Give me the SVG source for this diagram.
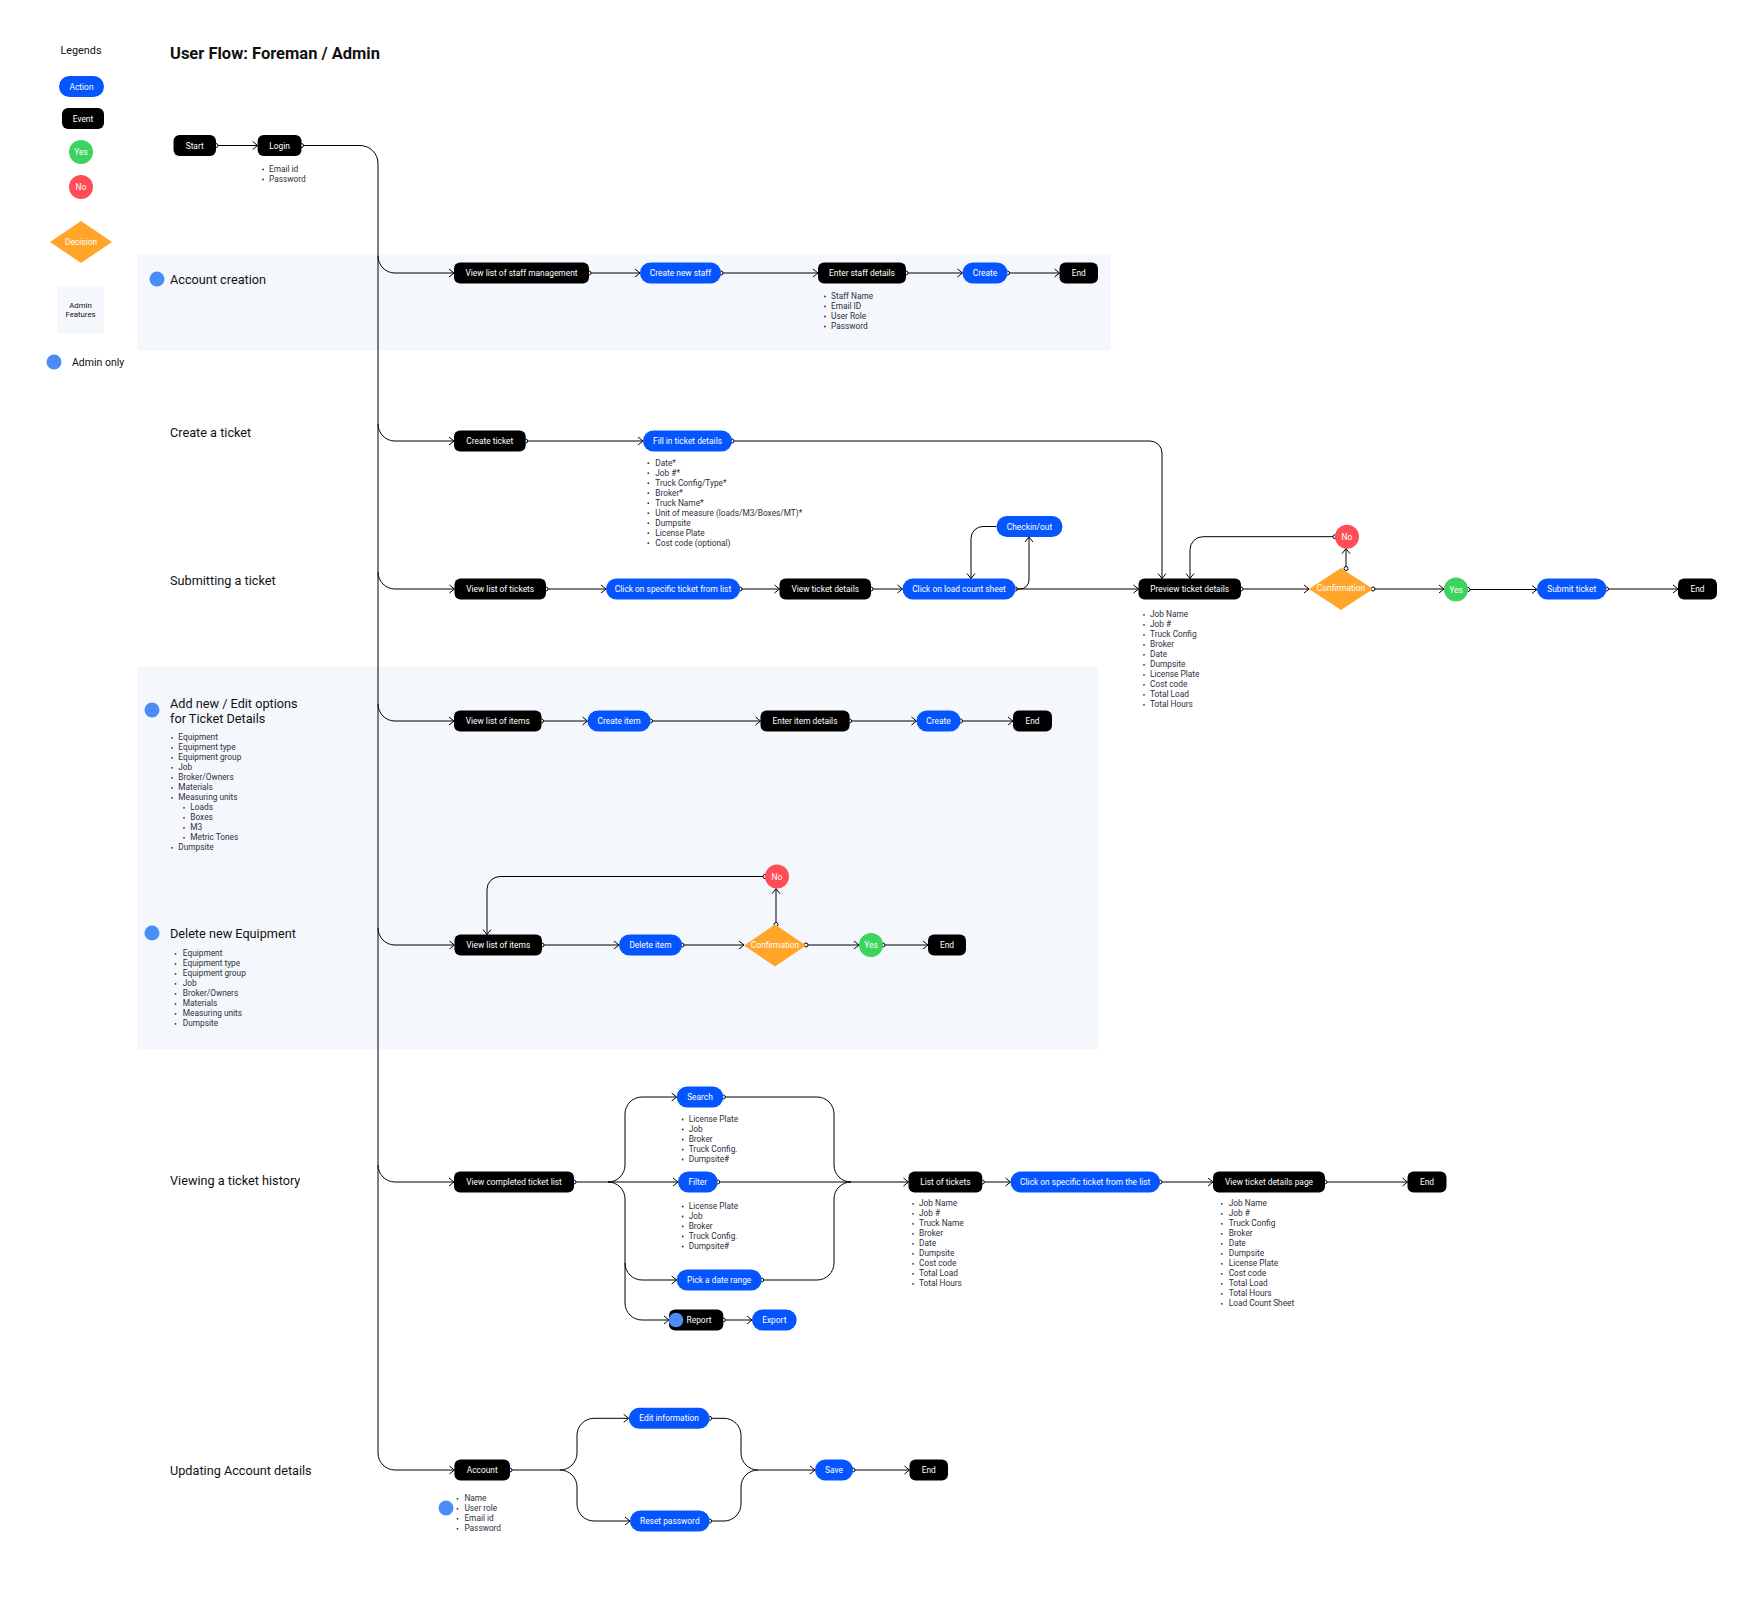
<svg xmlns="http://www.w3.org/2000/svg" width="1756" height="1603" viewBox="0 0 1756 1603">
<defs>
<style>
text{font-family:Roboto,"Liberation Sans",sans-serif}
.e{fill:#000}
.a{fill:#0555ff}
.y{fill:#3dd35f}
.no{fill:#ff4d57}
.d{fill:#ffa62a}
.adm{fill:#4b8df8}
.bg{fill:#f4f8fd}
.t{font-size:8.4px;fill:#fff;text-anchor:middle;dominant-baseline:central}
.b{font-size:8.3px;fill:#2f2f3b}
.dot{fill:#2f2f3b}
.sec{font-size:12.7px;fill:#111;dominant-baseline:central}
.lg{font-size:10.8px;fill:#111;dominant-baseline:central}
.c{fill:none;stroke:#000;stroke-width:1}
</style>
<marker id="ar" viewBox="-6 -5 7 10" refX="0" refY="0" markerWidth="7" markerHeight="10" markerUnits="userSpaceOnUse" orient="auto"><path d="M-5,-4 L0,0 L-5,4" fill="none" stroke="#000" stroke-width="1"/></marker>
<marker id="o" viewBox="-3 -3 6 6" refX="0" refY="0" markerWidth="6" markerHeight="6" markerUnits="userSpaceOnUse"><circle r="2" fill="#fff" stroke="#000" stroke-width="1"/></marker>
</defs>
<rect width="1756" height="1603" fill="#fff"/>

<!-- backgrounds -->
<g id="admin-areas">
<rect class="bg" x="137" y="254" width="974" height="97"/>
<rect class="bg" x="137" y="667" width="961" height="382"/>
</g>

<!-- legend -->
<g id="legend">
<text class="lg" x="81" y="50" text-anchor="middle">Legends</text>
<g id="lg-action"><rect class="a" x="59" y="76" width="45" height="21" rx="10.5"/><text class="t" x="81.5" y="86.5">Action</text></g>
<g id="lg-event"><rect class="e" x="62" y="108" width="42" height="21" rx="6"/><text class="t" x="83" y="118.5">Event</text></g>
<g id="lg-yes"><circle class="y" cx="81" cy="152" r="12"/><text class="t" x="81" y="152">Yes</text></g>
<g id="lg-no"><circle class="no" cx="81" cy="187" r="12"/><text class="t" x="81" y="187">No</text></g>
<g id="lg-decision"><path class="d" d="M81,221 L112,242 L81,263 L50,242 Z"/><text class="t" x="81" y="242">Decision</text></g>
<g id="lg-admin-features"><rect class="bg" x="57" y="286" width="47" height="47"/><text class="t" x="80.5" y="305" style="fill:#111;font-size:7.8px">Admin</text><text class="t" x="80.5" y="314" style="fill:#111;font-size:7.8px">Features</text></g>
<g id="lg-admin-only"><circle class="adm" cx="54" cy="362" r="7.5"/><text class="lg" x="72" y="362" style="font-size:10.5px">Admin only</text></g>
</g>

<text x="170" y="58.5" style="font-size:16.5px;font-weight:700;fill:#111">User Flow: Foreman / Admin</text>

<!-- section labels -->
<g id="sections">
<circle class="adm" cx="157" cy="279" r="7.5"/><text class="sec" x="170" y="279">Account creation</text>
<text class="sec" x="170" y="432">Create a ticket</text>
<text class="sec" x="170" y="580">Submitting a ticket</text>
<circle class="adm" cx="152" cy="710" r="7.5"/><text class="sec" x="170" y="703.5">Add new / Edit options</text><text class="sec" x="170" y="718.5">for Ticket Details</text>
<circle class="adm" cx="152" cy="933" r="7.5"/><text class="sec" x="170" y="933">Delete new Equipment</text>
<text class="sec" x="170" y="1180">Viewing a ticket history</text>
<text class="sec" x="170" y="1470.5">Updating Account details</text>
</g>

<!-- connectors -->
<g id="connectors">
<path class="c" marker-start="url(#o)" marker-end="url(#ar)" d="M216,145.5 H257.6"/>
<path class="c" marker-start="url(#o)" marker-end="url(#ar)" d="M301.5,145.5 H360 A18,18 0 0 1 378,163.5 V1453 A17,17 0 0 0 395,1470 H454.4"/>
<path class="c" marker-end="url(#ar)" d="M378,256 A17,17 0 0 0 395,273 H454"/>
<path class="c" marker-end="url(#ar)" d="M378,424 A17,17 0 0 0 395,441 H454"/>
<path class="c" marker-end="url(#ar)" d="M378,572 A17,17 0 0 0 395,589 H454.5"/>
<path class="c" marker-end="url(#ar)" d="M378,704 A17,17 0 0 0 395,721 H454"/>
<path class="c" marker-end="url(#ar)" d="M378,928 A17,17 0 0 0 395,945 H454.5"/>
<path class="c" marker-end="url(#ar)" d="M378,1165 A17,17 0 0 0 395,1182 H454"/>

<!-- row 1 -->
<path class="c" marker-start="url(#o)" marker-end="url(#ar)" d="M589,273 H640"/>
<path class="c" marker-start="url(#o)" marker-end="url(#ar)" d="M721,273 H818"/>
<path class="c" marker-start="url(#o)" marker-end="url(#ar)" d="M906,273 H962.5"/>
<path class="c" marker-start="url(#o)" marker-end="url(#ar)" d="M1007.5,273 H1059.5"/>

<!-- row 2 -->
<path class="c" marker-start="url(#o)" marker-end="url(#ar)" d="M525.7,441 H643"/>
<path class="c" marker-start="url(#o)" marker-end="url(#ar)" d="M732,441 H1150 A12,12 0 0 1 1162,453 V578.5"/>

<!-- row 3 -->
<path class="c" marker-start="url(#o)" marker-end="url(#ar)" d="M546,589 H606"/>
<path class="c" marker-start="url(#o)" marker-end="url(#ar)" d="M740,589 H779.5"/>
<path class="c" marker-start="url(#o)" marker-end="url(#ar)" d="M871,589 H902.5"/>
<path class="c" marker-start="url(#o)" marker-end="url(#ar)" d="M1015.5,589 H1138.5"/>
<path class="c" marker-end="url(#ar)" d="M1015.5,589 H1020 A9,9 0 0 0 1029,580 V537"/>
<path class="c" marker-end="url(#ar)" d="M996.5,526.5 H983 A12,12 0 0 0 971,538.5 V578.5"/>
<path class="c" marker-start="url(#o)" marker-end="url(#ar)" d="M1241,589 H1309"/>
<path class="c" marker-start="url(#o)" marker-end="url(#ar)" d="M1346,568.5 V548.7"/>
<path class="c" marker-start="url(#o)" marker-end="url(#ar)" d="M1335,536.7 H1203 A13,13 0 0 0 1190,549.7 V578.5"/>
<path class="c" marker-start="url(#o)" marker-end="url(#ar)" d="M1373,589 H1444"/>
<path class="c" marker-start="url(#o)" marker-end="url(#ar)" d="M1468,589.5 H1537"/>
<path class="c" marker-start="url(#o)" marker-end="url(#ar)" d="M1606.5,589 H1678"/>

<!-- row 4 -->
<path class="c" marker-start="url(#o)" marker-end="url(#ar)" d="M541.5,721 H587.5"/>
<path class="c" marker-start="url(#o)" marker-end="url(#ar)" d="M650.5,721 H760.5"/>
<path class="c" marker-start="url(#o)" marker-end="url(#ar)" d="M849.6,721 H916.5"/>
<path class="c" marker-start="url(#o)" marker-end="url(#ar)" d="M960.5,721 H1013"/>

<!-- row 5 -->
<path class="c" marker-start="url(#o)" marker-end="url(#ar)" d="M542,945 H619"/>
<path class="c" marker-start="url(#o)" marker-end="url(#ar)" d="M682,945 H744"/>
<path class="c" marker-start="url(#o)" marker-end="url(#ar)" d="M806,945 H859"/>
<path class="c" marker-start="url(#o)" marker-end="url(#ar)" d="M883,945 H928"/>
<path class="c" marker-start="url(#o)" marker-end="url(#ar)" d="M776,924.5 V888.7"/>
<path class="c" marker-start="url(#o)" marker-end="url(#ar)" d="M765,876.5 H500 A13,13 0 0 0 487,889.5 V934.5"/>

<!-- row 6 -->
<path class="c" marker-start="url(#o)" marker-end="url(#ar)" d="M574,1182 H678"/>
<path class="c" marker-end="url(#ar)" d="M608,1182 A17,17 0 0 0 625,1165 V1114 A17,17 0 0 1 642,1097 H676.7"/>
<path class="c" marker-end="url(#ar)" d="M608,1182 A17,17 0 0 1 625,1199 V1263 A17,17 0 0 0 642,1280 H676.7"/>
<path class="c" marker-end="url(#ar)" d="M625,1263 V1303 A17,17 0 0 0 642,1320 H669"/>
<path class="c" marker-start="url(#o)" marker-end="url(#ar)" d="M723.3,1320 H752"/>
<path class="c" marker-start="url(#o)" marker-end="url(#ar)" d="M723.3,1097 H817 A17,17 0 0 1 834,1114 V1165 A17,17 0 0 0 851,1182 H908.5"/>
<path class="c" marker-start="url(#o)" d="M717.7,1182 H851"/>
<path class="c" marker-start="url(#o)" d="M761.7,1280 H817 A17,17 0 0 0 834,1263 V1199 A17,17 0 0 1 851,1182"/>
<path class="c" marker-start="url(#o)" marker-end="url(#ar)" d="M982.3,1182 H1010.5"/>
<path class="c" marker-start="url(#o)" marker-end="url(#ar)" d="M1160,1182 H1213"/>
<path class="c" marker-start="url(#o)" marker-end="url(#ar)" d="M1325,1182 H1407.5"/>

<!-- row 7 -->
<path class="c" marker-start="url(#o)" marker-end="url(#ar)" d="M510,1470 H560 A17,17 0 0 0 577,1453 V1435.3 A17,17 0 0 1 594,1418.3 H628.7"/>
<path class="c" marker-end="url(#ar)" d="M560,1470 A17,17 0 0 1 577,1487 V1504 A17,17 0 0 0 594,1521 H630"/>
<path class="c" marker-start="url(#o)" marker-end="url(#ar)" d="M709.6,1418.3 H724 A17,17 0 0 1 741,1435.3 V1453 A17,17 0 0 0 758,1470 H815"/>
<path class="c" marker-start="url(#o)" d="M709.6,1521 H724 A17,17 0 0 0 741,1504 V1487 A17,17 0 0 1 758,1470"/>
<path class="c" marker-start="url(#o)" marker-end="url(#ar)" d="M853,1470 H909.5"/>
</g>

<!-- nodes -->
<g id="n-start"><rect class="e" x="173.5" y="135" width="42.5" height="21" rx="6"/><text class="t" x="194.7" y="145.5">Start</text></g>
<g id="n-login"><rect class="e" x="257.6" y="135" width="43.9" height="21" rx="6"/><text class="t" x="279.5" y="145.5">Login</text>
<circle class="dot" cx="263" cy="169.5" r="0.9"/><circle class="dot" cx="263" cy="179.5" r="0.9"/>
<text class="b"><tspan x="269" y="172">Email id</tspan><tspan x="269" y="182">Password</tspan></text></g>

<!-- row 1 -->
<g id="n-staff-list"><rect class="e" x="454" y="262.5" width="135" height="21" rx="6"/><text class="t" x="521.5" y="273">View list of staff management</text></g>
<g id="n-create-staff"><rect class="a" x="640" y="262.5" width="81" height="21" rx="10.5"/><text class="t" x="680.5" y="273">Create new staff</text></g>
<g id="n-enter-staff"><rect class="e" x="818" y="262.5" width="88" height="21" rx="6"/><text class="t" x="862" y="273">Enter staff details</text>
<circle class="dot" cx="825" cy="296.5" r="0.9"/><circle class="dot" cx="825" cy="306.5" r="0.9"/><circle class="dot" cx="825" cy="316.5" r="0.9"/><circle class="dot" cx="825" cy="326.5" r="0.9"/>
<text class="b"><tspan x="831" y="299">Staff Name</tspan><tspan x="831" y="309">Email ID</tspan><tspan x="831" y="319">User Role</tspan><tspan x="831" y="329">Password</tspan></text></g>
<g id="n-create-1"><rect class="a" x="962.5" y="262.5" width="45" height="21" rx="10.5"/><text class="t" x="985" y="273">Create</text></g>
<g id="n-end-1"><rect class="e" x="1059.5" y="262.5" width="38.5" height="21" rx="6"/><text class="t" x="1078.7" y="273">End</text></g>

<!-- row 2 -->
<g id="n-create-ticket"><rect class="e" x="454" y="430.5" width="71.7" height="21" rx="6"/><text class="t" x="489.8" y="441">Create ticket</text></g>
<g id="n-fill-ticket"><rect class="a" x="643" y="430.5" width="89" height="21" rx="10.5"/><text class="t" x="687.5" y="441">Fill in ticket details</text>
<circle class="dot" cx="648.3" cy="463.2" r="0.9"/><circle class="dot" cx="648.3" cy="473.2" r="0.9"/><circle class="dot" cx="648.3" cy="483.2" r="0.9"/><circle class="dot" cx="648.3" cy="493.2" r="0.9"/><circle class="dot" cx="648.3" cy="503.2" r="0.9"/><circle class="dot" cx="648.3" cy="513.2" r="0.9"/><circle class="dot" cx="648.3" cy="523.2" r="0.9"/><circle class="dot" cx="648.3" cy="533.2" r="0.9"/><circle class="dot" cx="648.3" cy="543.2" r="0.9"/>
<text class="b"><tspan x="655.3" y="465.7">Date*</tspan><tspan x="655.3" y="475.7">Job #*</tspan><tspan x="655.3" y="485.7">Truck Config/Type*</tspan><tspan x="655.3" y="495.7">Broker*</tspan><tspan x="655.3" y="505.7">Truck Name*</tspan><tspan x="655.3" y="515.7">Unit of measure (loads/M3/Boxes/MT)*</tspan><tspan x="655.3" y="525.7">Dumpsite</tspan><tspan x="655.3" y="535.7">License Plate</tspan><tspan x="655.3" y="545.7">Cost code (optional)</tspan></text></g>

<!-- row 3 -->
<g id="n-ticket-list"><rect class="e" x="454.5" y="578.5" width="91.5" height="21" rx="6"/><text class="t" x="500.2" y="589">View list of tickets</text></g>
<g id="n-click-ticket"><rect class="a" x="606" y="578.5" width="134" height="21" rx="10.5"/><text class="t" x="673" y="589">Click on specific ticket from list</text></g>
<g id="n-ticket-details"><rect class="e" x="779.5" y="578.5" width="91.5" height="21" rx="6"/><text class="t" x="825.2" y="589">View ticket details</text></g>
<g id="n-load-count"><rect class="a" x="902.5" y="578.5" width="113" height="21" rx="10.5"/><text class="t" x="959" y="589">Click on load count sheet</text></g>
<g id="n-checkin"><rect class="a" x="996.5" y="516" width="66" height="21" rx="10.5"/><text class="t" x="1029.5" y="526.5">Checkin/out</text></g>
<g id="n-preview"><rect class="e" x="1138.5" y="578.5" width="102.5" height="21" rx="6"/><text class="t" x="1189.7" y="589">Preview ticket details</text>
<circle class="dot" cx="1144" cy="614.8" r="0.9"/><circle class="dot" cx="1144" cy="624.8" r="0.9"/><circle class="dot" cx="1144" cy="634.8" r="0.9"/><circle class="dot" cx="1144" cy="644.8" r="0.9"/><circle class="dot" cx="1144" cy="654.8" r="0.9"/><circle class="dot" cx="1144" cy="664.8" r="0.9"/><circle class="dot" cx="1144" cy="674.8" r="0.9"/><circle class="dot" cx="1144" cy="684.8" r="0.9"/><circle class="dot" cx="1144" cy="694.8" r="0.9"/><circle class="dot" cx="1144" cy="704.8" r="0.9"/>
<text class="b"><tspan x="1150" y="617.3">Job Name</tspan><tspan x="1150" y="627.3">Job #</tspan><tspan x="1150" y="637.3">Truck Config</tspan><tspan x="1150" y="647.3">Broker</tspan><tspan x="1150" y="657.3">Date</tspan><tspan x="1150" y="667.3">Dumpsite</tspan><tspan x="1150" y="677.3">License Plate</tspan><tspan x="1150" y="687.3">Cost code</tspan><tspan x="1150" y="697.3">Total Load</tspan><tspan x="1150" y="707.3">Total Hours</tspan></text></g>
<g id="n-confirm-1"><path class="d" d="M1341,568 L1373,589 L1341,610 L1309,589 Z"/><text class="t" x="1341" y="588">Confirmation</text></g>
<g id="n-no-1"><circle class="no" cx="1347" cy="536.7" r="12"/><text class="t" x="1347" y="536.7">No</text></g>
<g id="n-yes-1"><circle class="y" cx="1456" cy="589.5" r="12"/><text class="t" x="1456" y="589.5">Yes</text></g>
<g id="n-submit"><rect class="a" x="1537" y="578.5" width="69.5" height="21" rx="10.5"/><text class="t" x="1571.7" y="589">Submit ticket</text></g>
<g id="n-end-3"><rect class="e" x="1678" y="578.5" width="39" height="21" rx="6"/><text class="t" x="1697.5" y="589">End</text></g>

<!-- row 4 -->
<g id="n-add-edit-note">
<circle class="dot" cx="172" cy="737.8" r="0.9"/><circle class="dot" cx="172" cy="747.8" r="0.9"/><circle class="dot" cx="172" cy="757.8" r="0.9"/><circle class="dot" cx="172" cy="767.8" r="0.9"/><circle class="dot" cx="172" cy="777.8" r="0.9"/><circle class="dot" cx="172" cy="787.8" r="0.9"/><circle class="dot" cx="172" cy="797.8" r="0.9"/><circle class="dot" cx="184" cy="807.8" r="0.9"/><circle class="dot" cx="184" cy="817.8" r="0.9"/><circle class="dot" cx="184" cy="827.8" r="0.9"/><circle class="dot" cx="184" cy="837.8" r="0.9"/><circle class="dot" cx="172" cy="847.8" r="0.9"/>
<text class="b"><tspan x="178.3" y="740.3">Equipment</tspan><tspan x="178.3" y="750.3">Equipment type</tspan><tspan x="178.3" y="760.3">Equipment group</tspan><tspan x="178.3" y="770.3">Job</tspan><tspan x="178.3" y="780.3">Broker/Owners</tspan><tspan x="178.3" y="790.3">Materials</tspan><tspan x="178.3" y="800.3">Measuring units</tspan><tspan x="190.3" y="810.3">Loads</tspan><tspan x="190.3" y="820.3">Boxes</tspan><tspan x="190.3" y="830.3">M3</tspan><tspan x="190.3" y="840.3">Metric Tones</tspan><tspan x="178.3" y="850.3">Dumpsite</tspan></text></g>
<g id="n-items-list-1"><rect class="e" x="454" y="710.5" width="87.5" height="21" rx="6"/><text class="t" x="497.7" y="721">View list of items</text></g>
<g id="n-create-item"><rect class="a" x="587.5" y="710.5" width="63" height="21" rx="10.5"/><text class="t" x="619" y="721">Create item</text></g>
<g id="n-enter-item"><rect class="e" x="760.5" y="710.5" width="89.1" height="21" rx="6"/><text class="t" x="805" y="721">Enter item details</text></g>
<g id="n-create-4"><rect class="a" x="916.5" y="710.5" width="44" height="21" rx="10.5"/><text class="t" x="938.5" y="721">Create</text></g>
<g id="n-end-4"><rect class="e" x="1013" y="710.5" width="39" height="21" rx="6"/><text class="t" x="1032.5" y="721">End</text></g>

<!-- row 5 -->
<g id="n-delete-note">
<circle class="dot" cx="175.5" cy="953.8" r="0.9"/><circle class="dot" cx="175.5" cy="963.8" r="0.9"/><circle class="dot" cx="175.5" cy="973.8" r="0.9"/><circle class="dot" cx="175.5" cy="983.8" r="0.9"/><circle class="dot" cx="175.5" cy="993.8" r="0.9"/><circle class="dot" cx="175.5" cy="1003.8" r="0.9"/><circle class="dot" cx="175.5" cy="1013.8" r="0.9"/><circle class="dot" cx="175.5" cy="1023.8" r="0.9"/>
<text class="b"><tspan x="182.8" y="956.3">Equipment</tspan><tspan x="182.8" y="966.3">Equipment type</tspan><tspan x="182.8" y="976.3">Equipment group</tspan><tspan x="182.8" y="986.3">Job</tspan><tspan x="182.8" y="996.3">Broker/Owners</tspan><tspan x="182.8" y="1006.3">Materials</tspan><tspan x="182.8" y="1016.3">Measuring units</tspan><tspan x="182.8" y="1026.3">Dumpsite</tspan></text></g>
<g id="n-items-list-2"><rect class="e" x="454.5" y="934.5" width="87.5" height="21" rx="6"/><text class="t" x="498.2" y="945">View list of items</text></g>
<g id="n-delete-item"><rect class="a" x="619" y="934.5" width="63" height="21" rx="10.5"/><text class="t" x="650.5" y="945">Delete item</text></g>
<g id="n-confirm-2"><path class="d" d="M775,924.5 L806,945.5 L775,966.5 L744,945.5 Z"/><text class="t" x="775" y="945">Confirmation</text></g>
<g id="n-no-2"><circle class="no" cx="777" cy="876.5" r="12"/><text class="t" x="777" y="876.5">No</text></g>
<g id="n-yes-2"><circle class="y" cx="871" cy="945" r="12"/><text class="t" x="871" y="945">Yes</text></g>
<g id="n-end-5"><rect class="e" x="928" y="934.5" width="38" height="21" rx="6"/><text class="t" x="947" y="945">End</text></g>

<!-- row 6 -->
<g id="n-completed-list"><rect class="e" x="454" y="1171.5" width="120" height="21" rx="6"/><text class="t" x="514" y="1182">View completed ticket list</text></g>
<g id="n-search"><rect class="a" x="676.7" y="1086.5" width="46.6" height="21" rx="10.5"/><text class="t" x="700" y="1097">Search</text>
<circle class="dot" cx="682.7" cy="1119.5" r="0.9"/><circle class="dot" cx="682.7" cy="1129.5" r="0.9"/><circle class="dot" cx="682.7" cy="1139.5" r="0.9"/><circle class="dot" cx="682.7" cy="1149.5" r="0.9"/><circle class="dot" cx="682.7" cy="1159.5" r="0.9"/>
<text class="b"><tspan x="688.7" y="1122">License Plate</tspan><tspan x="688.7" y="1132">Job</tspan><tspan x="688.7" y="1142">Broker</tspan><tspan x="688.7" y="1152">Truck Config.</tspan><tspan x="688.7" y="1162">Dumpsite#</tspan></text></g>
<g id="n-filter"><rect class="a" x="678" y="1171.5" width="39.7" height="21" rx="10.5"/><text class="t" x="697.8" y="1182">Filter</text>
<circle class="dot" cx="682.7" cy="1206.5" r="0.9"/><circle class="dot" cx="682.7" cy="1216.5" r="0.9"/><circle class="dot" cx="682.7" cy="1226.5" r="0.9"/><circle class="dot" cx="682.7" cy="1236.5" r="0.9"/><circle class="dot" cx="682.7" cy="1246.5" r="0.9"/>
<text class="b"><tspan x="688.7" y="1209">License Plate</tspan><tspan x="688.7" y="1219">Job</tspan><tspan x="688.7" y="1229">Broker</tspan><tspan x="688.7" y="1239">Truck Config.</tspan><tspan x="688.7" y="1249">Dumpsite#</tspan></text></g>
<g id="n-date-range"><rect class="a" x="676.7" y="1269.5" width="85" height="21" rx="10.5"/><text class="t" x="719.2" y="1280">Pick a date range</text></g>
<g id="n-report"><rect class="e" x="669" y="1309.5" width="54.3" height="21" rx="6"/><circle class="adm" cx="676" cy="1320" r="7.3"/><text class="t" x="699" y="1320">Report</text></g>
<g id="n-export"><rect class="a" x="752" y="1309.5" width="44.7" height="21" rx="10.5"/><text class="t" x="774.3" y="1320">Export</text></g>
<g id="n-list-tickets"><rect class="e" x="908.5" y="1171.5" width="73.8" height="21" rx="6"/><text class="t" x="945.4" y="1182">List of tickets</text>
<circle class="dot" cx="913" cy="1203.8" r="0.9"/><circle class="dot" cx="913" cy="1213.8" r="0.9"/><circle class="dot" cx="913" cy="1223.8" r="0.9"/><circle class="dot" cx="913" cy="1233.8" r="0.9"/><circle class="dot" cx="913" cy="1243.8" r="0.9"/><circle class="dot" cx="913" cy="1253.8" r="0.9"/><circle class="dot" cx="913" cy="1263.8" r="0.9"/><circle class="dot" cx="913" cy="1273.8" r="0.9"/><circle class="dot" cx="913" cy="1283.8" r="0.9"/>
<text class="b"><tspan x="919" y="1206.3">Job Name</tspan><tspan x="919" y="1216.3">Job #</tspan><tspan x="919" y="1226.3">Truck Name</tspan><tspan x="919" y="1236.3">Broker</tspan><tspan x="919" y="1246.3">Date</tspan><tspan x="919" y="1256.3">Dumpsite</tspan><tspan x="919" y="1266.3">Cost code</tspan><tspan x="919" y="1276.3">Total Load</tspan><tspan x="919" y="1286.3">Total Hours</tspan></text></g>
<g id="n-click-list"><rect class="a" x="1010.5" y="1171.5" width="149.5" height="21" rx="10.5"/><text class="t" x="1085.2" y="1182">Click on specific ticket from the list</text></g>
<g id="n-details-page"><rect class="e" x="1213" y="1171.5" width="112" height="21" rx="6"/><text class="t" x="1269" y="1182">View ticket details page</text>
<circle class="dot" cx="1221.8" cy="1203.8" r="0.9"/><circle class="dot" cx="1221.8" cy="1213.8" r="0.9"/><circle class="dot" cx="1221.8" cy="1223.8" r="0.9"/><circle class="dot" cx="1221.8" cy="1233.8" r="0.9"/><circle class="dot" cx="1221.8" cy="1243.8" r="0.9"/><circle class="dot" cx="1221.8" cy="1253.8" r="0.9"/><circle class="dot" cx="1221.8" cy="1263.8" r="0.9"/><circle class="dot" cx="1221.8" cy="1273.8" r="0.9"/><circle class="dot" cx="1221.8" cy="1283.8" r="0.9"/><circle class="dot" cx="1221.8" cy="1293.8" r="0.9"/><circle class="dot" cx="1221.8" cy="1303.8" r="0.9"/>
<text class="b"><tspan x="1228.7" y="1206.3">Job Name</tspan><tspan x="1228.7" y="1216.3">Job #</tspan><tspan x="1228.7" y="1226.3">Truck Config</tspan><tspan x="1228.7" y="1236.3">Broker</tspan><tspan x="1228.7" y="1246.3">Date</tspan><tspan x="1228.7" y="1256.3">Dumpsite</tspan><tspan x="1228.7" y="1266.3">License Plate</tspan><tspan x="1228.7" y="1276.3">Cost code</tspan><tspan x="1228.7" y="1286.3">Total Load</tspan><tspan x="1228.7" y="1296.3">Total Hours</tspan><tspan x="1228.7" y="1306.3">Load Count Sheet</tspan></text></g>
<g id="n-end-6"><rect class="e" x="1407.5" y="1171.5" width="39" height="21" rx="6"/><text class="t" x="1427" y="1182">End</text></g>

<!-- row 7 -->
<g id="n-account"><rect class="e" x="454.4" y="1459.5" width="55.6" height="21" rx="6"/><text class="t" x="482.2" y="1470">Account</text>
<circle class="adm" cx="446" cy="1508" r="7.5"/>
<circle class="dot" cx="457.5" cy="1498.8" r="0.9"/><circle class="dot" cx="457.5" cy="1508.8" r="0.9"/><circle class="dot" cx="457.5" cy="1518.8" r="0.9"/><circle class="dot" cx="457.5" cy="1528.8" r="0.9"/>
<text class="b"><tspan x="464.4" y="1501.3">Name</tspan><tspan x="464.4" y="1511.3">User role</tspan><tspan x="464.4" y="1521.3">Email id</tspan><tspan x="464.4" y="1531.3">Password</tspan></text></g>
<g id="n-edit-info"><rect class="a" x="628.7" y="1407.8" width="80.9" height="21" rx="10.5"/><text class="t" x="669.1" y="1418.3">Edit information</text></g>
<g id="n-reset-pw"><rect class="a" x="630" y="1510.5" width="79.6" height="21" rx="10.5"/><text class="t" x="669.8" y="1521">Reset password</text></g>
<g id="n-save"><rect class="a" x="815" y="1459.5" width="38" height="21" rx="10.5"/><text class="t" x="834" y="1470">Save</text></g>
<g id="n-end-7"><rect class="e" x="909.5" y="1459.5" width="38.5" height="21" rx="6"/><text class="t" x="928.7" y="1470">End</text></g>
</svg>
